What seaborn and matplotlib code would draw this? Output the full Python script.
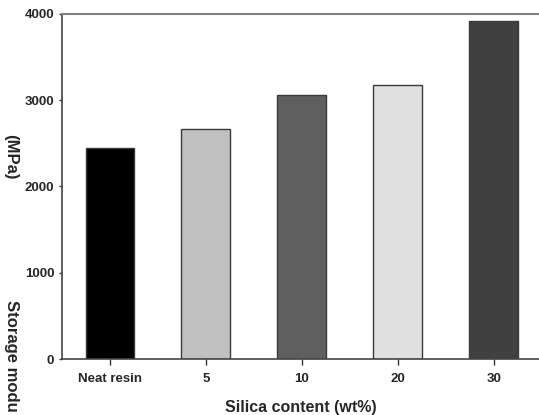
import matplotlib
matplotlib.use("Agg")
import matplotlib.pyplot as plt
import seaborn as sns
import pandas as pd

categories = ["Neat resin", "5", "10", "20", "30"]
modulus = [2445, 2663, 3062, 3174, 3919]
bar_colors = ["#000000", "#c0c0c0", "#5f5f5f", "#e0e0e0", "#404040"]
y_ticks = [0, 1000, 2000, 3000, 4000]

sns.set_theme(style="ticks")
plt.rcParams["font.family"] = ["Liberation Sans", "DejaVu Sans"]
plt.rcParams["font.weight"] = "bold"

df = pd.DataFrame({"cat": categories, "val": modulus})

fig = plt.figure(figsize=(5.39, 4.15), dpi=100)
ax = fig.add_axes([62/539, 1-359/415, 1-62/539, (359-14)/415])

sns.barplot(data=df, x="cat", y="val", hue="cat", palette=bar_colors,
            order=categories, hue_order=categories, legend=False,
            width=0.51, edgecolor="#3a3a3a", linewidth=1.0, ax=ax, saturation=1)

ax.set_xlim(-0.5, 4.47)
ax.set_ylim(0, 4000)
ax.set_yticks(y_ticks)
ax.set_yticklabels([str(t) for t in y_ticks], fontsize=9.5, fontweight="bold")
ax.set_xticks(range(len(categories)))
ax.set_xticklabels(categories, fontsize=9.5, fontweight="bold")
ax.tick_params(axis="x", direction="out", length=4, width=1, color="#333333", pad=6)
ax.tick_params(axis="y", direction="out", length=2.5, width=1, color="#333333", pad=3)

for s in ["left", "bottom"]:
    ax.spines[s].set_color("#444444")
    ax.spines[s].set_linewidth(1.2)
ax.spines["top"].set_color("#808080")
ax.spines["top"].set_linewidth(1.5)
ax.spines["right"].set_visible(False)

ax.set_xlabel("Silica content (wt%)", fontsize=11.5, fontweight="bold", labelpad=11)
ax.set_ylabel("")

fig.text(11/539, 1-300/415, "Storage modu", rotation=270, ha="center", va="top",
         fontsize=12, fontweight="bold")
fig.text(11/539, 1-157/415, "(MPa)", rotation=270, ha="center", va="center",
         fontsize=12, fontweight="bold")

fig.savefig("out.png", dpi=100)
